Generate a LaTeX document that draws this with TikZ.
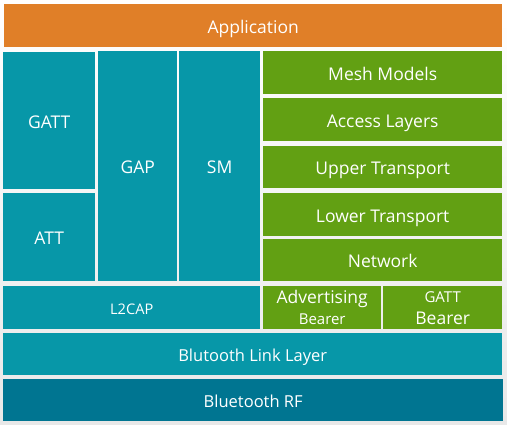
\documentclass[tikz,border=0pt]{standalone}
\usepackage{fontspec}
\setmainfont{Open Sans}
\usepackage{tikz}
\usetikzlibrary{shadings}

\definecolor{apporange}{HTML}{E07F28}
\definecolor{bleteal}{HTML}{0797A8}
\definecolor{meshgreen}{HTML}{62A013}
\definecolor{rfteal}{HTML}{007591}

\begin{document}
\begin{tikzpicture}[
			x=1pt, y=-1pt,
			every node/.style={
				anchor=north west,
				inner sep=0pt,
				text=white,
				align=center,
				text height=15pt,
				text depth=0pt,
				font=\fontsize{17.5}{19}\selectfont,
			},
			layer/.style={fill=bleteal},
			mesh/.style={fill=meshgreen},
			twolines/.style={text height=, text depth=},
			small/.style={text height=13pt, font=\fontsize{14.6}{16}\selectfont},
			bottom/.style={text height=14pt, font=\fontsize{16.5}{18}\selectfont},
			]
			\shade[top color=white, bottom color=black!9] (0,0) rectangle (507,424);
			\useasboundingbox (0,0) rectangle (507,424);
			%% top
			\node [fill=apporange, minimum width=498pt, minimum height=43pt] (app) at (4,4) {Application};
			%% host side
			\node [layer, minimum width=92pt, minimum height=137pt] (gatt) at (3,52) {GATT};
			\node [layer, minimum width=92pt, minimum height=88pt] (att) at (3,193) {ATT};
			\node [layer, minimum width=79pt, minimum height=230pt] (gap) at (98,51) {GAP};
			\node [layer, minimum width=81pt, minimum height=230pt] (sm) at (179,51) {SM};
			%% mesh stack
			\node [mesh, minimum width=239pt, minimum height=43pt] (models) at (263,51) {Mesh Models};
			\node [mesh, minimum width=239pt, minimum height=43pt] (access) at (263,98) {Access Layers};
			\node [mesh, minimum width=239pt, minimum height=42pt] (upper) at (263,146) {Upper Transport};
			\node [mesh, minimum width=239pt, minimum height=43pt] (lower) at (263,193) {Lower Transport};
			\node [mesh, minimum width=239pt, minimum height=42pt] (network) at (263,239) {Network};
			\node [layer, small, minimum width=257pt, minimum height=43pt] (l2cap) at (3,286) {L2CAP};
			\node [mesh, twolines, minimum width=118pt, minimum height=43pt] (advbearer) at (263,286)
				{Advertising\\[2pt]{\fontsize{15}{16}\selectfont Bearer}};
			\node [mesh, twolines, minimum width=119pt, minimum height=43pt] (gattbearer) at (383,286)
				{{\fontsize{15}{16}\selectfont GATT}\\[3pt]Bearer};
			%% controller
			\node [layer, bottom, minimum width=499pt, minimum height=42pt] (link) at (3,333) {Blutooth Link Layer};
			\node [fill=rfteal, bottom, minimum width=500pt, minimum height=42pt] (rf) at (3,379) {Bluetooth RF};
		\end{tikzpicture}
\end{document}
